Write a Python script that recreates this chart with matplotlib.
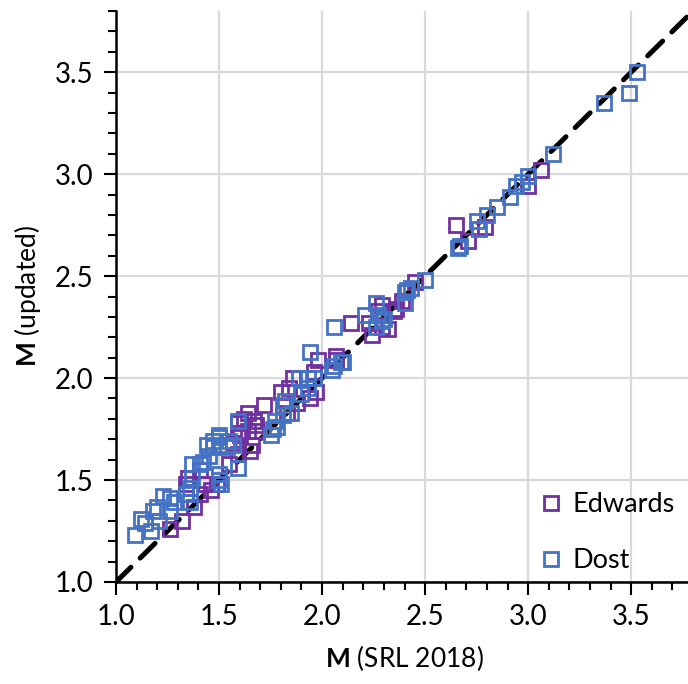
import matplotlib
matplotlib.use("Agg")
import matplotlib.pyplot as plt
from matplotlib.ticker import MultipleLocator

# ---- data ----
edwards_x = [3.06, 3.00, 2.79, 2.65, 2.71, 2.45, 2.39, 2.36, 2.35, 2.27, 2.29, 2.29, 2.23, 2.24,
             2.14, 2.32, 2.07, 2.07, 1.98, 1.96, 1.86, 1.84, 1.97, 1.94, 1.80, 1.72, 1.83, 1.64,
             1.67, 1.62, 1.68, 1.64, 1.68, 1.60, 1.57, 1.66, 1.65, 1.26, 1.32, 1.38, 1.34, 1.35,
             1.41, 1.46, 1.43, 1.41, 1.49, 1.55, 1.59, 1.59, 1.59, 1.88]
edwards_y = [3.02, 2.94, 2.74, 2.75, 2.67, 2.47, 2.38, 2.34, 2.33, 2.33, 2.36, 2.25, 2.27, 2.21,
             2.27, 2.24, 2.11, 2.09, 2.09, 2.03, 2.00, 1.95, 1.93, 1.90, 1.93, 1.87, 1.83, 1.83,
             1.79, 1.80, 1.77, 1.74, 1.74, 1.72, 1.68, 1.67, 1.64, 1.26, 1.30, 1.37, 1.48, 1.51,
             1.43, 1.45, 1.48, 1.55, 1.48, 1.58, 1.63, 1.78, 1.73, 1.88]

dost_x = [3.53, 3.49, 3.37, 3.12, 3.00, 2.97, 2.94, 2.91, 2.85, 2.80, 2.75, 2.76, 2.66, 2.67,
          2.50, 2.43, 2.41, 2.40, 2.40, 2.30, 2.27, 2.21, 2.26, 2.29, 2.26, 2.06, 2.09, 2.05,
          2.10, 2.06, 1.94, 1.96, 1.89, 1.93, 1.93, 1.90, 1.82, 1.81, 1.85, 1.81, 1.77, 1.59,
          1.76, 1.78, 1.75, 1.50, 1.47, 1.44, 1.57, 1.50, 1.09, 1.17, 1.12, 1.14, 1.21, 1.20,
          1.23, 1.26, 1.18, 1.28, 1.26, 1.36, 1.34, 1.37, 1.36, 1.50, 1.50, 1.37, 1.41, 1.45,
          1.47, 1.42, 1.50, 1.55, 1.54, 1.59, 1.51]
dost_y = [3.50, 3.40, 3.35, 3.10, 2.99, 2.96, 2.94, 2.89, 2.84, 2.80, 2.77, 2.73, 2.64, 2.65,
          2.48, 2.44, 2.43, 2.42, 2.37, 2.29, 2.31, 2.31, 2.37, 2.28, 2.25, 2.25, 2.08, 2.04,
          2.08, 2.06, 2.13, 2.00, 2.00, 2.00, 1.95, 1.92, 1.89, 1.87, 1.83, 1.82, 1.79, 1.79,
          1.75, 1.76, 1.72, 1.72, 1.69, 1.67, 1.67, 1.67, 1.23, 1.25, 1.31, 1.29, 1.30, 1.37,
          1.42, 1.41, 1.35, 1.39, 1.35, 1.39, 1.43, 1.51, 1.46, 1.50, 1.53, 1.58, 1.58, 1.62,
          1.66, 1.59, 1.71, 1.69, 1.66, 1.56, 1.48]

line_x = [1.0, 3.8]
line_y = [1.0, 3.8]
x_ticks = [1.0, 1.5, 2.0, 2.5, 3.0, 3.5]
y_ticks = [1.0, 1.5, 2.0, 2.5, 3.0, 3.5]

# ---- style ----
plt.rcParams['font.family'] = ['Lato', 'DejaVu Sans']
plt.rcParams['mathtext.fontset'] = 'custom'
plt.rcParams['mathtext.bf'] = 'Lato:bold'
plt.rcParams['mathtext.rm'] = 'Lato'

purple = '#7030A0'
blue = '#4472C4'

fig = plt.figure(figsize=(6.88, 6.84), dpi=100)
ax = fig.add_axes([116/688, 102/684, 577/688, 571/684])

ax.plot(line_x, line_y, color='black', lw=3.6, dashes=(4.2, 2.6),
        dash_capstyle='round', zorder=2)
ax.plot(edwards_x, edwards_y, ls='none', marker='s', ms=10, mfc='none',
        mec=purple, mew=2.0, label='Edwards', zorder=3)
ax.plot(dost_x, dost_y, ls='none', marker='s', ms=10, mfc='none',
        mec=blue, mew=2.0, label='Dost', zorder=4)

ax.set_xlim(1.0, 3.8)
ax.set_ylim(1.0, 3.8)
ax.set_xticks(x_ticks)
ax.set_yticks(y_ticks)
ax.set_xticklabels([f'{v:.1f}' for v in x_ticks])
ax.set_yticklabels([f'{v:.1f}' for v in y_ticks])
ax.xaxis.set_minor_locator(MultipleLocator(0.1))
ax.yaxis.set_minor_locator(MultipleLocator(0.1))
ax.tick_params(which='major', direction='out', length=9, width=1.5,
               labelsize=20, pad=7, colors='black')
ax.tick_params(which='minor', direction='out', length=6, width=1.5)
ax.grid(True, which='major', color='#D9D9D9', lw=1.6, zorder=0)
ax.set_axisbelow(True)

for s in ['top', 'right']:
    ax.spines[s].set_visible(False)
for s in ['left', 'bottom']:
    ax.spines[s].set_linewidth(1.8)

ax.set_xlabel(r'$\mathbf{M}$ (SRL 2018)', fontsize=19, labelpad=9)
ax.set_ylabel(r'$\mathbf{M}$ (updated)', fontsize=19, labelpad=9)

leg = ax.legend(loc='lower left', bbox_to_anchor=(0.705, -0.018), frameon=False,
                fontsize=19.5, handlelength=0.7, handletextpad=0.45,
                labelspacing=1.15, borderaxespad=0.3)
for h in leg.legend_handles:
    h.set_markersize(9.5)

fig.savefig('out.png', dpi=100)
